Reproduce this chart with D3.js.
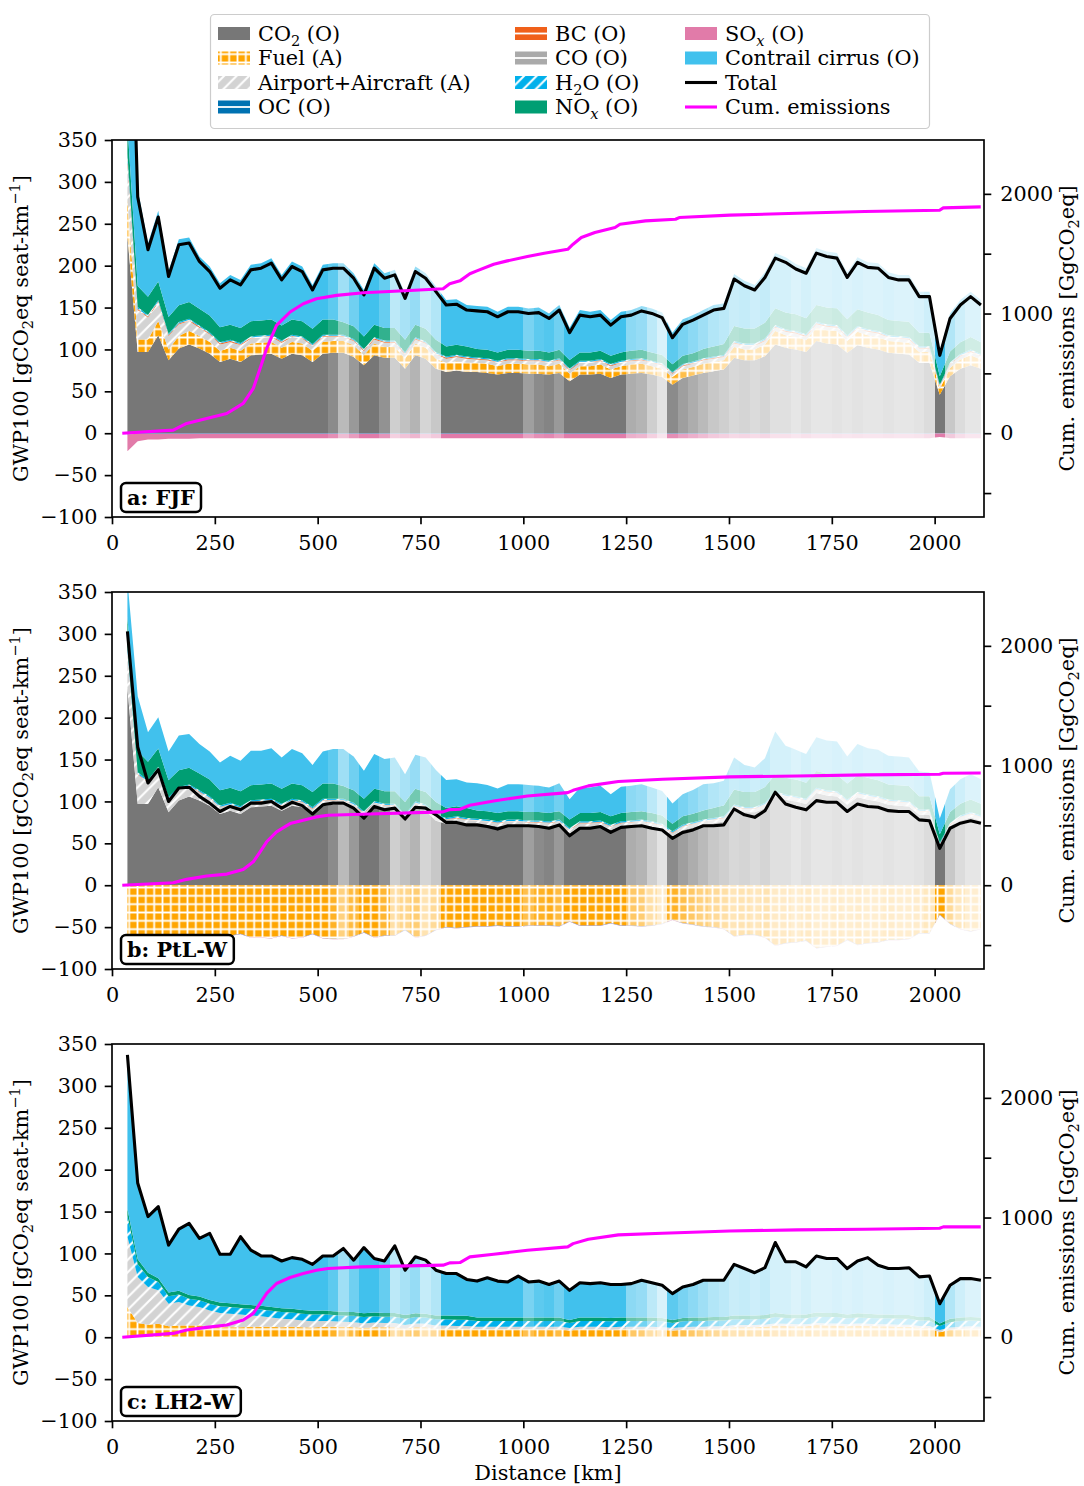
<!DOCTYPE html>
<html><head><meta charset="utf-8">
<script src="https://cdn.jsdelivr.net/npm/d3@7/dist/d3.min.js"></script>
<style>
html,body{margin:0;padding:0;background:#fff;}
svg{display:block;font-family:"DejaVu Serif",serif;}
</style></head>
<body>
<svg id="chart" width="1084" height="1486" xmlns="http://www.w3.org/2000/svg"></svg>
<script>
// ---------------- DATA ----------------
const distanceKm = [37.5,62.5,87.5,112.5,137.5,162.5,187.5,212.5,237.5,262.5,
 287.5,312.5,337.5,362.5,387.5,412.5,437.5,462.5,487.5,512.5,
 537.5,562.5,587.5,612.5,637.5,662.5,687.5,712.5,737.5,762.5,
 787.5,812.5,837.5,862.5,887.5,912.5,937.5,962.5,987.5,1012.5,
 1037.5,1062.5,1087.5,1112.5,1137.5,1162.5,1187.5,1212.5,1237.5,1262.5,
 1287.5,1312.5,1337.5,1362.5,1387.5,1412.5,1437.5,1462.5,1487.5,1512.5,
 1537.5,1562.5,1587.5,1612.5,1637.5,1662.5,1687.5,1712.5,1737.5,1762.5,
 1787.5,1812.5,1837.5,1862.5,1887.5,1912.5,1937.5,1962.5,1987.5,2012.5,
 2037.5,2062.5,2087.5,2112.5];
// opacity of each distance bin (traffic weight)
const binAlpha = [1,1,1,1,1,1,1,1,1,1,
 1,1,1,1,1,1,1,1,1,1,
 .85,.5,.75,1,1,.8,.35,.45,.55,.3,
 .4,1,1,1,1,1,1,1,1,.7,
 .85,.9,.75,1,1,1,1,1,1,.6,
 .55,.35,.2,.85,.7,.6,.5,.4,.35,.28,
 .3,.26,.3,.22,.22,.18,.22,.18,.18,.2,
 .18,.2,.18,.18,.2,.18,.18,.2,.25,1,
 .4,.25,.18,.18];

// shared operational components
const co2Op = [235,97,97,117,87,101,106,101,95,85,
 89,85,93,94,95,89,95,93,85,95,
 96,96,91,81,93,90,90,77,93,89,
 77,73,75,73,73,72,70,72,72,71,
 71,70,72,62,70,70,71,66,70,71,
 72,70,67,58,66,69,72,74,76,90,
 87,87,92,106,102,100,97,110,107,106,
 96,105,102,100,96,95,94,84,84,46,
 68,77,81,77];
const airportAircraft = [45,35,26,22,16,14,12,10,9,8,
 7,7,6,6,6,6,6,6,6,6,
 5,5,5,5,5,5,5,5,5,5,
 5,5,5,5,4,4,4,4,4,4,
 4,4,4,4,4,4,4,4,4,4,
 4,4,4,4,4,4,4,4,4,4,
 4,4,4,4,4,4,4,4,4,4,
 4,4,4,4,4,4,4,4,4,3,
 4,4,4,4];
const noxOp = [35,25,22,22,20,20,20,20,20,18,
 18,18,18,18,18,18,18,18,18,18,
 18,15,15,15,15,15,15,15,15,15,
 15,12,12,12,10,10,10,10,10,10,
 10,10,10,10,10,10,10,10,10,10,
 10,10,10,9,10,10,11,12,13,18,
 18,18,19,20,20,20,19,20,20,20,
 19,20,20,19,18,18,18,16,16,10,
 13,14,15,14];

// panel a: FJF
const fjfTotal = [700,282,219,258,187,225,227,205,193,173,
 183,177,195,197,203,183,199,193,171,195,
 197,197,185,165,197,185,189,161,193,185,
 169,153,154,147,146,145,139,145,145,143,
 144,137,147,120,141,139,141,129,139,141,
 146,143,138,114,130,135,141,147,149,184,
 176,171,186,209,204,196,191,215,211,209,
 186,204,198,197,186,183,183,163,163,93,
 137,153,163,153];
const fjfFuel = [44,15,15,17,13,15,16,15,14,13,
 13,13,14,14,14,13,14,14,13,14,
 14,14,14,12,14,13,13,12,14,13,
 12,11,11,11,11,11,10,11,11,11,
 11,10,11,9,10,10,11,10,10,11,
 11,10,10,9,10,10,11,11,11,13,
 13,13,14,16,15,15,14,16,16,16,
 14,16,15,15,14,14,14,13,13,7,
 10,11,12,11];
const fjfBC = [3,1.2,1.1,1.1,1,1,1,1,1,1,
 1,1,1,1,1,1,1,1,1,1,
 1,1,1,1,1,1,1,1,1,1,
 1,1,1,1,0.9,0.9,0.9,0.9,0.9,0.9,
 0.9,0.9,0.9,0.8,0.9,0.9,0.9,0.9,0.9,0.9,
 0.9,0.9,0.9,0.8,0.9,0.9,0.9,0.9,0.9,1.1,
 1.1,1.1,1.1,1.2,1.2,1.2,1.2,1.2,1.2,1.2,
 1.1,1.2,1.2,1.2,1.1,1.1,1.1,1,1,0.6,
 0.9,0.9,1,0.9];
const fjfCO = [1,0.5,0.4,0.4,0.4,0.4,0.4,0.4,0.4,0.4,
 0.4,0.4,0.4,0.4,0.4,0.4,0.4,0.4,0.4,0.4,
 0.4,0.4,0.4,0.4,0.4,0.4,0.4,0.4,0.4,0.4,
 0.4,0.4,0.4,0.4,0.4,0.4,0.4,0.4,0.4,0.4,
 0.4,0.4,0.4,0.4,0.4,0.4,0.4,0.4,0.4,0.4,
 0.4,0.4,0.4,0.4,0.4,0.4,0.4,0.4,0.4,0.4,
 0.4,0.4,0.4,0.4,0.4,0.4,0.4,0.4,0.4,0.4,
 0.4,0.4,0.4,0.4,0.4,0.4,0.4,0.4,0.4,0.3,
 0.4,0.4,0.4,0.4];
const fjfH2O = [5,2,1.5,1.5,1.3,1.3,1.3,1.2,1.2,1.2,
 1.2,1.2,1.2,1.2,1.2,1.2,1.2,1.2,1.2,1.2,
 1.2,1.2,1.2,1.2,1.2,1.2,1.2,1.2,1.2,1.2,
 1.2,1.2,1.2,1.2,1.2,1.2,1.2,1.2,1.2,1.2,
 1.2,1.2,1.2,1.2,1.2,1.2,1.2,1.2,1.2,1.2,
 1.2,1.2,1.2,1,1.2,1.2,1.2,1.2,1.2,1.5,
 1.5,1.5,1.5,1.5,1.5,1.5,1.5,1.5,1.5,1.5,
 1.5,1.5,1.5,1.5,1.5,1.5,1.5,1.4,1.4,1,
 1.2,1.3,1.4,1.3];
const fjfOC = [-1.5,-0.6,-0.5,-0.5,-0.5,-0.5,-0.5,-0.5,-0.5,-0.5,
 -0.5,-0.5,-0.5,-0.5,-0.5,-0.5,-0.5,-0.5,-0.5,-0.5,
 -0.5,-0.5,-0.5,-0.5,-0.5,-0.5,-0.5,-0.5,-0.5,-0.5,
 -0.5,-0.5,-0.5,-0.5,-0.5,-0.5,-0.5,-0.5,-0.5,-0.5,
 -0.5,-0.5,-0.5,-0.5,-0.5,-0.5,-0.5,-0.5,-0.5,-0.5,
 -0.5,-0.5,-0.5,-0.5,-0.5,-0.5,-0.5,-0.5,-0.5,-0.5,
 -0.5,-0.5,-0.5,-0.5,-0.5,-0.5,-0.5,-0.5,-0.5,-0.5,
 -0.5,-0.5,-0.5,-0.5,-0.5,-0.5,-0.5,-0.5,-0.5,-0.4,
 -0.5,-0.5,-0.5,-0.5];
const fjfSOx = [-20,-9,-7,-7,-6,-6,-6,-5.5,-5.5,-5.5,
 -5.5,-5.5,-5.5,-5.5,-5.5,-5.5,-5.5,-5.5,-5.5,-5.5,
 -5.5,-5.5,-5.5,-5.5,-5.5,-5.5,-5.5,-5.5,-5.5,-5.5,
 -5.5,-5.5,-5.5,-5.5,-5.5,-5.5,-5.5,-5.5,-5.5,-5.5,
 -5.5,-5.5,-5.5,-5.5,-5.5,-5.5,-5.5,-5.5,-5.5,-5.5,
 -5.5,-5.5,-5.5,-5.5,-5.5,-5.5,-5.5,-5.5,-5.5,-5.5,
 -5.5,-5.5,-5.5,-5.5,-5.5,-5.5,-5.5,-5.5,-5.5,-5.5,
 -5.5,-5.5,-5.5,-5.5,-5.5,-5.5,-5.5,-5.5,-5.5,-4,
 -5.5,-5.5,-5.5,-5.5];

// panel b: PtL-W
const ptlTotal = [303,165,122,138,100,116,117,106,98,88,
 94,90,98,98,100,92,99,95,85,96,
 98,98,92,80,94,90,92,79,93,92,
 84,75,75,72,72,70,67,71,71,71,
 70,68,72,59,68,68,70,63,69,70,
 71,68,66,56,63,66,71,71,72,91,
 84,81,89,111,97,93,90,101,99,99,
 88,97,94,93,89,88,88,78,77,44,
 68,74,77,74];
const ptlFuel = [-60,-60,-60,-62,-59,-62,-63,-62,-61,-58,
 -60,-58,-62,-62,-63,-60,-63,-62,-58,-63,
 -64,-64,-61,-56,-62,-60,-60,-53,-62,-60,
 -53,-50,-51,-50,-49,-49,-48,-49,-49,-48,
 -48,-48,-49,-43,-48,-48,-48,-45,-48,-48,
 -49,-48,-46,-41,-45,-47,-49,-50,-52,-61,
 -59,-59,-62,-72,-69,-68,-66,-75,-73,-72,
 -65,-71,-69,-68,-65,-65,-64,-57,-57,-35,
 -46,-52,-55,-52];
const ptlBC = [0.5,0.5,0.5,0.5,0.5,0.5,0.5,0.5,0.5,0.5,
 0.5,0.5,0.5,0.5,0.5,0.5,0.5,0.5,0.5,0.5,
 0.5,0.5,0.5,0.5,0.5,0.5,0.5,0.5,0.5,0.5,
 0.5,0.5,0.5,0.5,0.5,0.5,0.5,0.5,0.5,0.5,
 0.5,0.5,0.5,0.5,0.5,0.5,0.5,0.5,0.5,0.5,
 0.5,0.5,0.5,0.5,0.5,0.5,0.5,0.5,0.5,0.5,
 0.5,0.5,0.5,0.5,0.5,0.5,0.5,0.5,0.5,0.5,
 0.5,0.5,0.5,0.5,0.5,0.5,0.5,0.5,0.5,0.4,
 0.5,0.5,0.5,0.5];
const ptlCO = [0.3,0.3,0.3,0.3,0.3,0.3,0.3,0.3,0.3,0.3,
 0.3,0.3,0.3,0.3,0.3,0.3,0.3,0.3,0.3,0.3,
 0.3,0.3,0.3,0.3,0.3,0.3,0.3,0.3,0.3,0.3,
 0.3,0.3,0.3,0.3,0.3,0.3,0.3,0.3,0.3,0.3,
 0.3,0.3,0.3,0.3,0.3,0.3,0.3,0.3,0.3,0.3,
 0.3,0.3,0.3,0.3,0.3,0.3,0.3,0.3,0.3,0.3,
 0.3,0.3,0.3,0.3,0.3,0.3,0.3,0.3,0.3,0.3,
 0.3,0.3,0.3,0.3,0.3,0.3,0.3,0.3,0.3,0.3,
 0.3,0.3,0.3,0.3];
const ptlH2O = [4,2,1.5,1.5,1.5,1.5,1.5,1.5,1.5,1.5,
 1.5,1.5,1.5,1.5,1.5,1.5,1.5,1.5,1.5,1.5,
 1.5,1.5,1.5,1.5,1.5,1.5,1.5,1.5,1.5,1.5,
 1.5,1.5,1.5,1.5,1.5,1.5,1.5,1.5,1.5,1.5,
 1.5,1.5,1.5,1.5,1.5,1.5,1.5,1.5,1.5,1.5,
 1.5,1.5,1.5,1.5,1.5,1.5,1.5,1.5,1.5,1.5,
 1.5,1.5,1.5,1.5,1.5,1.5,1.5,1.5,1.5,1.5,
 1.5,1.5,1.5,1.5,1.5,1.5,1.5,1.5,1.5,1.2,
 1.5,1.5,1.5,1.5];
const ptlOC = [-0.3,-0.3,-0.3,-0.3,-0.3,-0.3,-0.3,-0.3,-0.3,-0.3,
 -0.3,-0.3,-0.3,-0.3,-0.3,-0.3,-0.3,-0.3,-0.3,-0.3,
 -0.3,-0.3,-0.3,-0.3,-0.3,-0.3,-0.3,-0.3,-0.3,-0.3,
 -0.3,-0.3,-0.3,-0.3,-0.3,-0.3,-0.3,-0.3,-0.3,-0.3,
 -0.3,-0.3,-0.3,-0.3,-0.3,-0.3,-0.3,-0.3,-0.3,-0.3,
 -0.3,-0.3,-0.3,-0.3,-0.3,-0.3,-0.3,-0.3,-0.3,-0.3,
 -0.3,-0.3,-0.3,-0.3,-0.3,-0.3,-0.3,-0.3,-0.3,-0.3,
 -0.3,-0.3,-0.3,-0.3,-0.3,-0.3,-0.3,-0.3,-0.3,-0.3,
 -0.3,-0.3,-0.3,-0.3];
const ptlSOx = [-0.4,-0.3,-0.3,-0.3,-0.3,-0.3,-0.3,-0.3,-0.3,-0.3,
 -0.3,-0.3,-0.3,-0.3,-0.3,-0.3,-0.3,-0.3,-0.3,-0.3,
 -0.3,-0.3,-0.3,-0.3,-0.3,-0.3,-0.3,-0.3,-0.3,-0.3,
 -0.3,-0.3,-0.3,-0.3,-0.3,-0.3,-0.3,-0.3,-0.3,-0.3,
 -0.3,-0.3,-0.3,-0.3,-0.3,-0.3,-0.3,-0.3,-0.3,-0.3,
 -0.3,-0.3,-0.3,-0.3,-0.3,-0.3,-0.3,-0.3,-0.3,-0.3,
 -0.3,-0.3,-0.3,-0.3,-0.3,-0.3,-0.3,-0.3,-0.3,-0.3,
 -0.3,-0.3,-0.3,-0.3,-0.3,-0.3,-0.3,-0.3,-0.3,-0.3,
 -0.3,-0.3,-0.3,-0.3];

// panel c: LH2-W
const lh2Total = [337,184,144,156,110,129,136,118,124,99,
 99,120,104,97,97,91,95,93,87,97,
 97,106,92,107,94,91,109,80,96,92,
 80,76,76,69,67,71,67,66,73,66,
 67,63,67,56,65,64,65,63,63,64,
 68,65,62,52,60,63,68,68,68,87,
 82,77,83,113,90,90,84,97,94,94,
 82,91,95,86,82,82,83,72,73,40,
 62,70,70,68];
const lh2Fuel = [36,17,15,16,13,14,14,14,13,12,
 12,12,12.5,12.5,12.5,12,12.5,12,11.5,12.5,
 12.5,12.5,12,11,12,12,12,10,12,12,
 10,10,10,10,9.5,9.5,9.5,9.5,9.5,9.5,
 9.5,9.5,9.5,8,9.5,9.5,9.5,9,9.5,9.5,
 9.5,9.5,9,8,9,9.5,9.5,10,10,12,
 12,12,12.5,14,13.5,13,13,14.5,14,14,
 13,14,13.5,13,13,12.5,12.5,11,11,6,
 9,10,10.5,10];
const lh2Airport = [84,55,45,40,27,28,24,22,19,17,
 16,15,13.5,12.5,11,10,9,8,7.5,7,
 6.5,6,6,5.5,5.5,5,5,4.5,4.5,4,
 4,4,3.5,3.5,3,3,3,3,3,3,
 3,3,3,3,3,3,3,3,3,3,
 3,3,3,3,3,3,3,3,3,2.5,
 2.5,2.5,2.5,2.5,2.5,2.5,2.5,2.5,2.5,2.5,
 2.5,2.5,2.5,2.5,2.5,2.5,2.5,2.5,2.5,2.5,
 2.5,2.5,2.5,2.5];
const lh2H2O = [25,15,12,10,9,9,8,8,8,8,
 8,8,8,8,8,8,8,8,8,8,
 7.5,7.5,7.5,7.5,7.5,7.5,7.5,7.5,7.5,7.5,
 7.5,7.5,7.5,7.5,7,7,7,7,7,7,
 7,7,7,6,7,7,7,7,7,7,
 7,7,7,6,7,7,7,7,7,7,
 7,7,7,7.5,7,7,7,7.5,7.5,7.5,
 7,7,7,7,7,7,7,6.5,6.5,5,
 6.5,7,7,7];
const lh2NOx = [8,6,5,4.5,4.5,4.5,4.5,4.5,4.5,4.5,
 4.5,4.5,4.5,4.5,4.5,4.5,4.5,4.5,4.5,4.5,
 4.5,4.5,4.5,4.5,4.5,4.5,4.5,4.5,4.5,4.5,
 4.5,4.5,4.5,4.5,4,4,4,4,4,4,
 4,4,4,3.5,4,4,4,4,4,4,
 4,4,4,3.5,4,4,4,4,4,4.5,
 4.5,4.5,4.5,5,4.5,4.5,4.5,5,5,5,
 4.5,5,5,4.5,4.5,4.5,4.5,4,4,3,
 4,4,4,4];

// cumulative emissions (right axis)
const cumKmFJF = [25,149,181.5,230,279,319,343.5,360,376,400,433,465,497,546,611,724,805,821,846,870,887,928,961,1010,1051,1108,1121,1141,1174,1223,1235,1297,1370,1379,1502,1666,1830,2012,2021,2112];
const cumFJF = [0,26,82,124,165,249,374,540,707,902,1013,1082,1124,1152,1174,1193,1207,1249,1273,1332,1356,1412,1440,1476,1504,1537,1579,1635,1677,1719,1746,1774,1788,1802,1822,1838,1852,1863,1883,1891];
const cumKmW = [25,149,181.5,230,279,319,343.5,360,376,400,433,465,497,525,606,805,821,846,870,928,1010,1108,1121,1158,1231,1338,1502,1666,1830,2012,2021,2112];
const cumPtL = [0,21,49,77,93,132,196,279,363,446,515,543,571,585,593,613,632,635,668,704,746,774,793,830,866,885,905,913,922,927,936,938];
const cumLH2 = [0,32,60,82,102,144,199,282,366,449,499,532,560,574,588,602,621,624,671,693,727,755,782,819,855,869,888,897,902,911,922,922];

const xTicks = [0,250,500,750,1000,1250,1500,1750,2000];
const yTicks = [-100,-50,0,50,100,150,200,250,300,350];
const yTicksRight = [-500,0,500,1000,1500,2000];
const yTickLabelsRight = [0,1000,2000];

// ---------------- DRAWING ----------------
const W = 1084, H = 1486, FS = 20.8;
const svg = d3.select('#chart');
const defs = svg.append('defs');
const X0 = 112, X1 = 984;
const x = d3.scaleLinear().domain([0, 2120]).range([X0, X1]);

const C = {co2:'#777777', fuel:'#ffa500', air:'#d3d3d3', oc:'#0072b2', bc:'#f0601a', co:'#aaaaaa',
  h2o:'#00b0eb', nox:'#009e73', sox:'#e17ba9', cc:'#41c1ed', total:'#000000', cum:'#ff00ff'};

function makePattern(id, size, bg, d, sw){
  const p = defs.append('pattern').attr('id', id).attr('patternUnits','userSpaceOnUse')
    .attr('width', size).attr('height', size);
  p.append('rect').attr('width', size).attr('height', size).attr('fill', bg);
  p.append('path').attr('d', d).attr('stroke', '#fff').attr('stroke-width', sw).attr('fill','none');
}
const gs = 150/18, hs = 150/12;
makePattern('patFuel', gs, C.fuel, `M0,${gs/2}H${gs}M${gs/2},0V${gs}`, 1.8);
const slash = `M${-hs/2},${hs/2}L${hs/2},${-hs/2}M0,${hs}L${hs},0M${hs/2},${1.5*hs}L${1.5*hs},${hs/2}`;
makePattern('patAir', hs, C.air, slash, 2.1);
makePattern('patH2O', hs, C.h2o, slash, 2.1);
makePattern('patOC', gs, C.oc, `M0,${gs/2}H${gs}`, 1.8);
makePattern('patBC', gs, C.bc, `M0,${gs/2}H${gs}`, 1.8);
makePattern('patCO', gs, C.co, `M0,${gs/2}H${gs}`, 1.8);

// band clip paths (runs of equal opacity)
const runs = [];
distanceKm.forEach((d, i) => {
  const a = binAlpha[i], last = runs[runs.length - 1];
  if (last && last.a === a) last.i1 = i; else runs.push({a, i0: i, i1: i});
});
const halfBin = 12.5;
runs.forEach((r, k) => {
  const xa = Math.round(x(distanceKm[r.i0] - halfBin));
  const xb = Math.round(x(distanceKm[r.i1] + halfBin));
  defs.append('clipPath').attr('id', 'band' + k).append('rect')
    .attr('x', xa).attr('y', 0).attr('width', xb - xa).attr('height', H);
});

const fmt = d => d < 0 ? '\u2212' + Math.abs(d) : String(d);

const panels = [
  {id:'a', top:140, bottom:517, label:'a: FJF', total:fjfTotal, cumKm:cumKmFJF, cum:cumFJF,
   pos:[[co2Op,C.co2],[fjfFuel,'url(#patFuel)'],[airportAircraft,'url(#patAir)'],[fjfBC,'url(#patBC)'],
        [fjfCO,'url(#patCO)'],[fjfH2O,'url(#patH2O)'],[noxOp,C.nox],[null,C.cc]],
   neg:[[fjfOC,'url(#patOC)'],[fjfSOx,C.sox]]},
  {id:'b', top:592, bottom:969, label:'b: PtL-W', total:ptlTotal, cumKm:cumKmW, cum:cumPtL,
   pos:[[co2Op,C.co2],[airportAircraft,'url(#patAir)'],[ptlBC,'url(#patBC)'],[ptlCO,'url(#patCO)'],
        [ptlH2O,'url(#patH2O)'],[noxOp,C.nox],[null,C.cc]],
   neg:[[ptlFuel,'url(#patFuel)'],[ptlOC,'url(#patOC)'],[ptlSOx,C.sox]]},
  {id:'c', top:1044, bottom:1421, label:'c: LH2-W', total:lh2Total, cumKm:cumKmW, cum:cumLH2,
   pos:[[lh2Fuel,'url(#patFuel)'],[lh2Airport,'url(#patAir)'],[lh2H2O,'url(#patH2O)'],[lh2NOx,C.nox],[null,C.cc]],
   neg:[]}
];

function rich(sel, parts){
  let shift = 0;
  parts.forEach(([t, kind]) => {
    const ts = sel.append('tspan').text(t);
    let target = 0;
    if (kind === 'sub' || kind === 'subi') target = 5;
    else if (kind === 'sup') target = -8;
    if (target !== shift) ts.attr('dy', target - shift);
    shift = target;
    if (kind) ts.attr('font-size', (FS * 0.7) + 'px');
    if (kind === 'subi') ts.attr('font-style', 'italic');
  });
}

panels.forEach(p => {
  const y = d3.scaleLinear().domain([-100, 350]).range([p.bottom, p.top]);
  const y2 = d3.scaleLinear().domain([-700, 2450]).range([p.bottom, p.top]);
  // contrail cirrus = total minus every other component (top of stack)
  const others = i => p.pos.filter(l => l[0]).reduce((s, l) => s + l[0][i], 0) + p.neg.reduce((s, l) => s + l[0][i], 0);
  const contrail = p.total.map((t, i) => Math.max(0, t - others(i)));

  const shapes = [];
  let base = distanceKm.map(() => 0);
  p.pos.forEach(([vals, fill]) => {
    const v = vals || contrail;
    const hi = base.map((b, i) => b + v[i]);
    shapes.push({lo: base, hi, fill}); base = hi;
  });
  base = distanceKm.map(() => 0);
  p.neg.forEach(([vals, fill]) => {
    const lo = base.map((b, i) => b + vals[i]);
    shapes.push({lo, hi: base, fill}); base = lo;
  });

  const lg = defs.append('g').attr('id', 'layers' + p.id);
  shapes.forEach(sh => {
    const area = d3.area().x((d, i) => x(distanceKm[i])).y0((d, i) => y(sh.lo[i])).y1((d, i) => y(sh.hi[i]));
    lg.append('path').attr('d', area(distanceKm)).attr('fill', sh.fill);
  });

  defs.append('clipPath').attr('id', 'plot' + p.id).append('rect')
    .attr('x', X0).attr('y', p.top).attr('width', X1 - X0).attr('height', p.bottom - p.top);

  const plot = svg.append('g').attr('clip-path', `url(#plot${p.id})`);
  runs.forEach((r, k) => {
    plot.append('g').attr('clip-path', `url(#band${k})`).attr('opacity', r.a)
      .append('use').attr('href', '#layers' + p.id);
  });
  plot.append('path').datum(p.total)
    .attr('d', d3.line().x((d, i) => x(distanceKm[i])).y(d => y(d)))
    .attr('fill', 'none').attr('stroke', C.total).attr('stroke-width', 3.1).attr('stroke-linejoin', 'round');
  plot.append('path').datum(p.cum)
    .attr('d', d3.line().x((d, i) => x(p.cumKm[i])).y(d => y2(d)))
    .attr('fill', 'none').attr('stroke', C.cum).attr('stroke-width', 3.1).attr('stroke-linejoin', 'round');

  // spines
  svg.append('rect').attr('x', X0).attr('y', p.top).attr('width', X1 - X0).attr('height', p.bottom - p.top)
    .attr('fill', 'none').attr('stroke', '#000').attr('stroke-width', 1.67);

  // axes
  const styleAxis = g => {
    g.select('.domain').remove();
    g.attr('font-family', '"DejaVu Serif", serif').attr('font-size', FS);
    g.selectAll('line').attr('stroke', '#000').attr('stroke-width', 1.67);
    g.selectAll('text').attr('fill', '#000');
  };
  svg.append('g').attr('transform', `translate(${X0},0)`)
    .call(d3.axisLeft(y).tickValues(yTicks).tickSize(7.3).tickPadding(7.3).tickFormat(fmt)).call(styleAxis);
  svg.append('g').attr('transform', `translate(${X1},0)`)
    .call(d3.axisRight(y2).tickValues(yTicksRight).tickSize(7.3).tickPadding(9)
      .tickFormat(d => yTickLabelsRight.includes(d) ? fmt(d) : '')).call(styleAxis);
  svg.append('g').attr('transform', `translate(0,${p.bottom})`)
    .call(d3.axisBottom(x).tickValues(xTicks).tickSize(7.3).tickPadding(10.9).tickFormat(fmt)).call(styleAxis);

  // axis labels
  const cy = (p.top + p.bottom) / 2;
  const yl = svg.append('text').attr('transform', `translate(28,${cy}) rotate(-90)`)
    .attr('text-anchor', 'middle').attr('font-size', FS);
  rich(yl, [['GWP100 [gCO'], ['2','sub'], ['eq seat-km'], ['\u22121','sup'], [']']]);
  const yr = svg.append('text').attr('transform', `translate(1074,${cy}) rotate(-90)`)
    .attr('text-anchor', 'middle').attr('font-size', FS);
  rich(yr, [['Cum. emissions [GgCO'], ['2','sub'], ['eq]']]);

  // panel label
  const lgp = svg.append('g');
  const rect = lgp.append('rect');
  const lt = lgp.append('text').attr('x', X0 + 15).attr('y', p.bottom - 12)
    .attr('font-size', FS).attr('font-weight', 'bold').text(p.label);
  const bb = lt.node().getBBox();
  rect.attr('x', bb.x - 6).attr('y', bb.y - 2).attr('width', bb.width + 12).attr('height', bb.height + 4)
    .attr('rx', 5).attr('fill', '#fff').attr('stroke', '#000').attr('stroke-width', 2.5);
});

svg.append('text').attr('x', (X0 + X1) / 2).attr('y', 1480).attr('text-anchor', 'middle')
  .attr('font-size', FS).text('Distance [km]');

// legend
svg.append('rect').attr('x', 210.5).attr('y', 14.5).attr('width', 719).attr('height', 114)
  .attr('rx', 4).attr('fill', '#fff').attr('fill-opacity', 0.8).attr('stroke', '#cccccc').attr('stroke-width', 1.2);
const colX = [218, 515, 685], rowY = r => 33.5 + 24.5 * r, pw = 32, ph = 13;
const legendItems = [
  {c:0, r:0, fill:C.co2, text:[['CO'],['2','sub'],[' (O)']]},
  {c:0, r:1, fill:'url(#patFuel)', text:[['Fuel (A)']]},
  {c:0, r:2, fill:'url(#patAir)', text:[['Airport+Aircraft (A)']]},
  {c:0, r:3, fill:C.oc, dash:true, text:[['OC (O)']]},
  {c:1, r:0, fill:C.bc, dash:true, text:[['BC (O)']]},
  {c:1, r:1, fill:C.co, dash:true, text:[['CO (O)']]},
  {c:1, r:2, fill:'url(#patH2O)', text:[['H'],['2','sub'],['O (O)']]},
  {c:1, r:3, fill:C.nox, text:[['NO'],['x','subi'],[' (O)']]},
  {c:2, r:0, fill:C.sox, text:[['SO'],['x','subi'],[' (O)']]},
  {c:2, r:1, fill:C.cc, text:[['Contrail cirrus (O)']]},
  {c:2, r:2, line:C.total, text:[['Total']]},
  {c:2, r:3, line:C.cum, text:[['Cum. emissions']]}
];
legendItems.forEach(it => {
  const x0 = colX[it.c], yc = rowY(it.r);
  if (it.line) {
    svg.append('line').attr('x1', x0).attr('x2', x0 + pw).attr('y1', yc).attr('y2', yc)
      .attr('stroke', it.line).attr('stroke-width', 3.1);
  } else {
    svg.append('rect').attr('x', x0).attr('y', yc - ph / 2).attr('width', pw).attr('height', ph).attr('fill', it.fill);
    if (it.dash) svg.append('line').attr('x1', x0).attr('x2', x0 + pw).attr('y1', yc).attr('y2', yc)
      .attr('stroke', '#fff').attr('stroke-width', 1.8);
  }
  const t = svg.append('text').attr('x', x0 + 40).attr('y', yc + 7).attr('font-size', FS);
  rich(t, it.text);
});
</script>
</body></html>
